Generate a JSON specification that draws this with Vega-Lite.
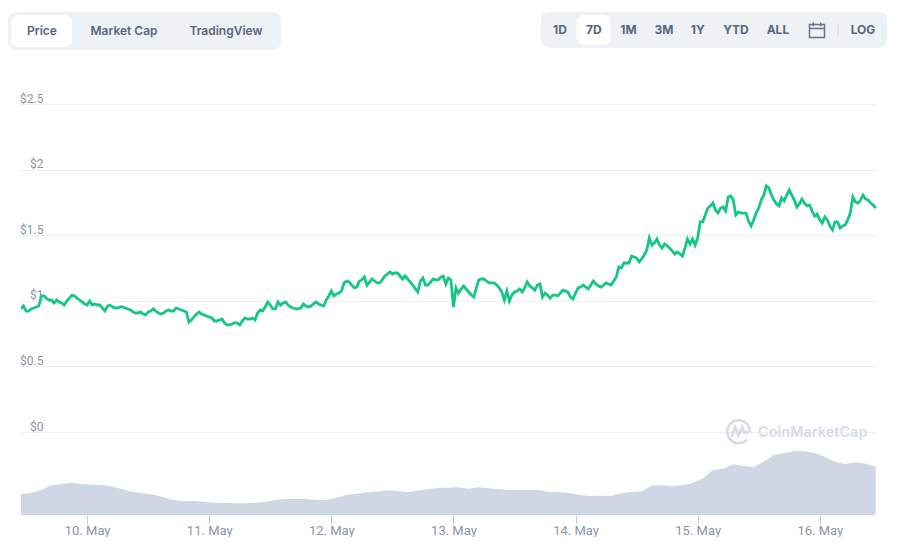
{
"$schema":"https://vega.github.io/schema/vega-lite/v6.json",
"padding":{"left":8,"top":12,"right":0,"bottom":0},
"background":"white",
"config":{"view":{"stroke":null},"font":"Inter"},
"spacing":42,
"datasets":{
"tabs":[{"label":"Price","selected":true},{"label":"Market Cap","selected":false},{"label":"TradingView","selected":false}],
"ranges":[{"label":"1D","selected":false},{"label":"7D","selected":true},{"label":"1M","selected":false},{"label":"3M","selected":false},{"label":"1Y","selected":false},{"label":"YTD","selected":false},{"label":"ALL","selected":false},{"label":"LOG","selected":false}],
"price":[
{"t":"2021-05-09T11:00","p":0.938},{"t":"2021-05-09T11:30","p":0.96},{"t":"2021-05-09T12:00","p":0.922},{"t":"2021-05-09T12:30","p":0.922},{"t":"2021-05-09T13:00","p":0.938},{"t":"2021-05-09T13:30","p":0.945},{"t":"2021-05-09T14:00","p":0.953},{"t":"2021-05-09T14:30","p":0.96},{"t":"2021-05-09T15:00","p":1.037},{"t":"2021-05-09T15:30","p":1.037},{"t":"2021-05-09T16:00","p":1.021},{"t":"2021-05-09T16:30","p":1.006},{"t":"2021-05-09T17:00","p":1.006},{"t":"2021-05-09T17:30","p":0.983},{"t":"2021-05-09T18:00","p":1.006},{"t":"2021-05-09T18:30","p":0.991},{"t":"2021-05-09T19:00","p":0.983},{"t":"2021-05-09T19:30","p":0.968},{"t":"2021-05-09T20:00","p":0.998},{"t":"2021-05-09T20:30","p":1.021},{"t":"2021-05-09T21:00","p":1.044},{"t":"2021-05-09T21:30","p":1.037},{"t":"2021-05-09T22:00","p":1.021},{"t":"2021-05-09T22:30","p":1.006},{"t":"2021-05-09T23:00","p":0.991},{"t":"2021-05-09T23:30","p":0.976},
{"t":"2021-05-10T00:00","p":0.968},{"t":"2021-05-10T00:30","p":0.998},{"t":"2021-05-10T01:00","p":0.968},{"t":"2021-05-10T01:30","p":0.976},{"t":"2021-05-10T02:00","p":0.968},{"t":"2021-05-10T02:30","p":0.968},{"t":"2021-05-10T03:00","p":0.945},{"t":"2021-05-10T03:30","p":0.922},{"t":"2021-05-10T04:00","p":0.96},{"t":"2021-05-10T04:30","p":0.968},{"t":"2021-05-10T05:00","p":0.953},{"t":"2021-05-10T05:30","p":0.945},{"t":"2021-05-10T06:00","p":0.945},{"t":"2021-05-10T06:30","p":0.953},{"t":"2021-05-10T07:00","p":0.953},{"t":"2021-05-10T07:30","p":0.945},{"t":"2021-05-10T08:00","p":0.938},{"t":"2021-05-10T08:30","p":0.93},{"t":"2021-05-10T09:00","p":0.915},{"t":"2021-05-10T09:30","p":0.907},{"t":"2021-05-10T10:00","p":0.907},{"t":"2021-05-10T10:30","p":0.915},{"t":"2021-05-10T11:00","p":0.899},{"t":"2021-05-10T11:30","p":0.892},{"t":"2021-05-10T12:00","p":0.915},{"t":"2021-05-10T12:30","p":0.922},{"t":"2021-05-10T13:00","p":0.938},{"t":"2021-05-10T13:30","p":0.922},{"t":"2021-05-10T14:00","p":0.907},{"t":"2021-05-10T14:30","p":0.899},{"t":"2021-05-10T15:00","p":0.907},{"t":"2021-05-10T15:30","p":0.922},{"t":"2021-05-10T16:00","p":0.93},{"t":"2021-05-10T16:30","p":0.922},{"t":"2021-05-10T17:00","p":0.922},{"t":"2021-05-10T17:30","p":0.945},{"t":"2021-05-10T18:00","p":0.938},{"t":"2021-05-10T18:30","p":0.93},{"t":"2021-05-10T19:00","p":0.922},{"t":"2021-05-10T19:30","p":0.915},{"t":"2021-05-10T20:00","p":0.838},{"t":"2021-05-10T20:30","p":0.854},{"t":"2021-05-10T21:00","p":0.877},{"t":"2021-05-10T21:30","p":0.899},{"t":"2021-05-10T22:00","p":0.915},{"t":"2021-05-10T22:30","p":0.899},{"t":"2021-05-10T23:00","p":0.892},{"t":"2021-05-10T23:30","p":0.884},
{"t":"2021-05-11T00:00","p":0.877},{"t":"2021-05-11T00:30","p":0.869},{"t":"2021-05-11T01:00","p":0.846},{"t":"2021-05-11T01:30","p":0.846},{"t":"2021-05-11T02:00","p":0.854},{"t":"2021-05-11T02:30","p":0.861},{"t":"2021-05-11T03:00","p":0.831},{"t":"2021-05-11T03:30","p":0.816},{"t":"2021-05-11T04:00","p":0.816},{"t":"2021-05-11T04:30","p":0.823},{"t":"2021-05-11T05:00","p":0.831},{"t":"2021-05-11T05:30","p":0.831},{"t":"2021-05-11T06:00","p":0.816},{"t":"2021-05-11T06:30","p":0.846},{"t":"2021-05-11T07:00","p":0.869},{"t":"2021-05-11T07:30","p":0.861},{"t":"2021-05-11T08:00","p":0.861},{"t":"2021-05-11T08:30","p":0.869},{"t":"2021-05-11T09:00","p":0.854},{"t":"2021-05-11T09:30","p":0.907},{"t":"2021-05-11T10:00","p":0.93},{"t":"2021-05-11T10:30","p":0.922},{"t":"2021-05-11T11:00","p":0.953},{"t":"2021-05-11T11:30","p":0.991},{"t":"2021-05-11T12:00","p":0.968},{"t":"2021-05-11T12:30","p":0.938},{"t":"2021-05-11T13:00","p":0.938},{"t":"2021-05-11T13:30","p":0.991},{"t":"2021-05-11T14:00","p":0.968},{"t":"2021-05-11T14:30","p":0.983},{"t":"2021-05-11T15:00","p":0.991},{"t":"2021-05-11T15:30","p":0.968},{"t":"2021-05-11T16:00","p":0.953},{"t":"2021-05-11T16:30","p":0.945},{"t":"2021-05-11T17:00","p":0.938},{"t":"2021-05-11T17:30","p":0.938},{"t":"2021-05-11T18:00","p":0.945},{"t":"2021-05-11T18:30","p":0.976},{"t":"2021-05-11T19:00","p":0.96},{"t":"2021-05-11T19:30","p":0.953},{"t":"2021-05-11T20:00","p":0.96},{"t":"2021-05-11T20:30","p":0.976},{"t":"2021-05-11T21:00","p":0.991},{"t":"2021-05-11T21:30","p":0.976},{"t":"2021-05-11T22:00","p":0.968},{"t":"2021-05-11T22:30","p":0.96},{"t":"2021-05-11T23:00","p":1.006},{"t":"2021-05-11T23:30","p":1.037},
{"t":"2021-05-12T00:00","p":1.075},{"t":"2021-05-12T00:30","p":1.037},{"t":"2021-05-12T01:00","p":1.052},{"t":"2021-05-12T01:30","p":1.059},{"t":"2021-05-12T02:00","p":1.075},{"t":"2021-05-12T02:30","p":1.136},{"t":"2021-05-12T03:00","p":1.151},{"t":"2021-05-12T03:30","p":1.143},{"t":"2021-05-12T04:00","p":1.12},{"t":"2021-05-12T04:30","p":1.098},{"t":"2021-05-12T05:00","p":1.105},{"t":"2021-05-12T05:30","p":1.151},{"t":"2021-05-12T06:00","p":1.159},{"t":"2021-05-12T06:30","p":1.181},{"t":"2021-05-12T07:00","p":1.12},{"t":"2021-05-12T07:30","p":1.143},{"t":"2021-05-12T08:00","p":1.166},{"t":"2021-05-12T08:30","p":1.151},{"t":"2021-05-12T09:00","p":1.136},{"t":"2021-05-12T09:30","p":1.136},{"t":"2021-05-12T10:00","p":1.159},{"t":"2021-05-12T10:30","p":1.189},{"t":"2021-05-12T11:00","p":1.204},{"t":"2021-05-12T11:30","p":1.22},{"t":"2021-05-12T12:00","p":1.204},{"t":"2021-05-12T12:30","p":1.212},{"t":"2021-05-12T13:00","p":1.212},{"t":"2021-05-12T13:30","p":1.189},{"t":"2021-05-12T14:00","p":1.166},{"t":"2021-05-12T14:30","p":1.189},{"t":"2021-05-12T15:00","p":1.166},{"t":"2021-05-12T15:30","p":1.143},{"t":"2021-05-12T16:00","p":1.12},{"t":"2021-05-12T16:30","p":1.09},{"t":"2021-05-12T17:00","p":1.067},{"t":"2021-05-12T17:30","p":1.151},{"t":"2021-05-12T18:00","p":1.174},{"t":"2021-05-12T18:30","p":1.12},{"t":"2021-05-12T19:00","p":1.12},{"t":"2021-05-12T19:30","p":1.143},{"t":"2021-05-12T20:00","p":1.166},{"t":"2021-05-12T20:30","p":1.159},{"t":"2021-05-12T21:00","p":1.159},{"t":"2021-05-12T21:30","p":1.181},{"t":"2021-05-12T22:00","p":1.189},{"t":"2021-05-12T22:30","p":1.128},{"t":"2021-05-12T23:00","p":1.174},{"t":"2021-05-12T23:30","p":1.159},
{"t":"2021-05-13T00:00","p":0.953},{"t":"2021-05-13T00:30","p":1.098},{"t":"2021-05-13T01:00","p":1.059},{"t":"2021-05-13T01:30","p":1.09},{"t":"2021-05-13T02:00","p":1.113},{"t":"2021-05-13T02:30","p":1.09},{"t":"2021-05-13T03:00","p":1.067},{"t":"2021-05-13T03:30","p":1.044},{"t":"2021-05-13T04:00","p":1.029},{"t":"2021-05-13T04:30","p":1.098},{"t":"2021-05-13T05:00","p":1.159},{"t":"2021-05-13T05:30","p":1.166},{"t":"2021-05-13T06:00","p":1.166},{"t":"2021-05-13T06:30","p":1.151},{"t":"2021-05-13T07:00","p":1.136},{"t":"2021-05-13T07:30","p":1.136},{"t":"2021-05-13T08:00","p":1.136},{"t":"2021-05-13T08:30","p":1.12},{"t":"2021-05-13T09:00","p":1.098},{"t":"2021-05-13T09:30","p":1.067},{"t":"2021-05-13T10:00","p":1.006},{"t":"2021-05-13T10:30","p":1.075},{"t":"2021-05-13T11:00","p":0.998},{"t":"2021-05-13T11:30","p":1.044},{"t":"2021-05-13T12:00","p":1.067},{"t":"2021-05-13T12:30","p":1.075},{"t":"2021-05-13T13:00","p":1.09},{"t":"2021-05-13T13:30","p":1.067},{"t":"2021-05-13T14:00","p":1.098},{"t":"2021-05-13T14:30","p":1.143},{"t":"2021-05-13T15:00","p":1.113},{"t":"2021-05-13T15:30","p":1.098},{"t":"2021-05-13T16:00","p":1.082},{"t":"2021-05-13T16:30","p":1.12},{"t":"2021-05-13T17:00","p":1.128},{"t":"2021-05-13T17:30","p":1.029},{"t":"2021-05-13T18:00","p":1.059},{"t":"2021-05-13T18:30","p":1.044},{"t":"2021-05-13T19:00","p":1.021},{"t":"2021-05-13T19:30","p":1.044},{"t":"2021-05-13T20:00","p":1.044},{"t":"2021-05-13T20:30","p":1.037},{"t":"2021-05-13T21:00","p":1.059},{"t":"2021-05-13T21:30","p":1.082},{"t":"2021-05-13T22:00","p":1.075},{"t":"2021-05-13T22:30","p":1.067},{"t":"2021-05-13T23:00","p":1.029},{"t":"2021-05-13T23:30","p":1.014},
{"t":"2021-05-14T00:00","p":1.059},{"t":"2021-05-14T00:30","p":1.098},{"t":"2021-05-14T01:00","p":1.105},{"t":"2021-05-14T01:30","p":1.12},{"t":"2021-05-14T02:00","p":1.105},{"t":"2021-05-14T02:30","p":1.09},{"t":"2021-05-14T03:00","p":1.12},{"t":"2021-05-14T03:30","p":1.151},{"t":"2021-05-14T04:00","p":1.128},{"t":"2021-05-14T04:30","p":1.113},{"t":"2021-05-14T05:00","p":1.105},{"t":"2021-05-14T05:30","p":1.12},{"t":"2021-05-14T06:00","p":1.136},{"t":"2021-05-14T06:30","p":1.128},{"t":"2021-05-14T07:00","p":1.12},{"t":"2021-05-14T07:30","p":1.151},{"t":"2021-05-14T08:00","p":1.181},{"t":"2021-05-14T08:30","p":1.258},{"t":"2021-05-14T09:00","p":1.25},{"t":"2021-05-14T09:30","p":1.288},{"t":"2021-05-14T10:00","p":1.288},{"t":"2021-05-14T10:30","p":1.288},{"t":"2021-05-14T11:00","p":1.341},{"t":"2021-05-14T11:30","p":1.334},{"t":"2021-05-14T12:00","p":1.326},{"t":"2021-05-14T12:30","p":1.296},{"t":"2021-05-14T13:00","p":1.319},{"t":"2021-05-14T13:30","p":1.349},{"t":"2021-05-14T14:00","p":1.387},{"t":"2021-05-14T14:30","p":1.479},{"t":"2021-05-14T15:00","p":1.425},{"t":"2021-05-14T15:30","p":1.441},{"t":"2021-05-14T16:00","p":1.471},{"t":"2021-05-14T16:30","p":1.425},{"t":"2021-05-14T17:00","p":1.402},{"t":"2021-05-14T17:30","p":1.433},{"t":"2021-05-14T18:00","p":1.418},{"t":"2021-05-14T18:30","p":1.402},{"t":"2021-05-14T19:00","p":1.38},{"t":"2021-05-14T19:30","p":1.357},{"t":"2021-05-14T20:00","p":1.372},{"t":"2021-05-14T20:30","p":1.357},{"t":"2021-05-14T21:00","p":1.341},{"t":"2021-05-14T21:30","p":1.402},{"t":"2021-05-14T22:00","p":1.471},{"t":"2021-05-14T22:30","p":1.433},{"t":"2021-05-14T23:00","p":1.471},{"t":"2021-05-14T23:30","p":1.425},
{"t":"2021-05-15T00:00","p":1.479},{"t":"2021-05-15T00:30","p":1.601},{"t":"2021-05-15T01:00","p":1.601},{"t":"2021-05-15T01:30","p":1.654},{"t":"2021-05-15T02:00","p":1.707},{"t":"2021-05-15T02:30","p":1.723},{"t":"2021-05-15T03:00","p":1.745},{"t":"2021-05-15T03:30","p":1.692},{"t":"2021-05-15T04:00","p":1.669},{"t":"2021-05-15T04:30","p":1.707},{"t":"2021-05-15T05:00","p":1.715},{"t":"2021-05-15T05:30","p":1.684},{"t":"2021-05-15T06:00","p":1.791},{"t":"2021-05-15T06:30","p":1.799},{"t":"2021-05-15T07:00","p":1.768},{"t":"2021-05-15T07:30","p":1.654},{"t":"2021-05-15T08:00","p":1.677},{"t":"2021-05-15T08:30","p":1.669},{"t":"2021-05-15T09:00","p":1.669},{"t":"2021-05-15T09:30","p":1.669},{"t":"2021-05-15T10:00","p":1.608},{"t":"2021-05-15T10:30","p":1.57},{"t":"2021-05-15T11:00","p":1.616},{"t":"2021-05-15T11:30","p":1.669},{"t":"2021-05-15T12:00","p":1.707},{"t":"2021-05-15T12:30","p":1.768},{"t":"2021-05-15T13:00","p":1.806},{"t":"2021-05-15T13:30","p":1.875},{"t":"2021-05-15T14:00","p":1.86},{"t":"2021-05-15T14:30","p":1.806},{"t":"2021-05-15T15:00","p":1.768},{"t":"2021-05-15T15:30","p":1.738},{"t":"2021-05-15T16:00","p":1.723},{"t":"2021-05-15T16:30","p":1.784},{"t":"2021-05-15T17:00","p":1.761},{"t":"2021-05-15T17:30","p":1.806},{"t":"2021-05-15T18:00","p":1.845},{"t":"2021-05-15T18:30","p":1.806},{"t":"2021-05-15T19:00","p":1.768},{"t":"2021-05-15T19:30","p":1.715},{"t":"2021-05-15T20:00","p":1.738},{"t":"2021-05-15T20:30","p":1.776},{"t":"2021-05-15T21:00","p":1.745},{"t":"2021-05-15T21:30","p":1.723},{"t":"2021-05-15T22:00","p":1.73},{"t":"2021-05-15T22:30","p":1.684},{"t":"2021-05-15T23:00","p":1.646},{"t":"2021-05-15T23:30","p":1.662},
{"t":"2021-05-16T00:00","p":1.616},{"t":"2021-05-16T00:30","p":1.593},{"t":"2021-05-16T01:00","p":1.639},{"t":"2021-05-16T01:30","p":1.616},{"t":"2021-05-16T02:00","p":1.57},{"t":"2021-05-16T02:30","p":1.54},{"t":"2021-05-16T03:00","p":1.601},{"t":"2021-05-16T03:30","p":1.601},{"t":"2021-05-16T04:00","p":1.555},{"t":"2021-05-16T04:30","p":1.57},{"t":"2021-05-16T05:00","p":1.578},{"t":"2021-05-16T05:30","p":1.616},{"t":"2021-05-16T06:00","p":1.669},{"t":"2021-05-16T06:30","p":1.791},{"t":"2021-05-16T07:00","p":1.753},{"t":"2021-05-16T07:30","p":1.745},{"t":"2021-05-16T08:00","p":1.768},{"t":"2021-05-16T08:30","p":1.806},{"t":"2021-05-16T09:00","p":1.776},{"t":"2021-05-16T09:30","p":1.768},{"t":"2021-05-16T10:00","p":1.745},{"t":"2021-05-16T10:30","p":1.73},{"t":"2021-05-16T11:00","p":1.707}
],
"volume":[
{"t":"2021-05-09T11:00","v":21},{"t":"2021-05-09T13:00","v":22},{"t":"2021-05-09T15:00","v":25},{"t":"2021-05-09T17:00","v":29.7},{"t":"2021-05-09T19:00","v":31},{"t":"2021-05-09T21:00","v":32.3},{"t":"2021-05-09T23:00","v":31},
{"t":"2021-05-10T01:00","v":30.3},{"t":"2021-05-10T03:00","v":30},{"t":"2021-05-10T05:00","v":28.3},{"t":"2021-05-10T07:00","v":25.7},{"t":"2021-05-10T09:00","v":23},{"t":"2021-05-10T11:00","v":21.7},{"t":"2021-05-10T13:00","v":20.3},{"t":"2021-05-10T15:00","v":17.7},{"t":"2021-05-10T17:00","v":15},{"t":"2021-05-10T19:00","v":13.7},{"t":"2021-05-10T21:00","v":14},{"t":"2021-05-10T23:00","v":13.3},
{"t":"2021-05-11T01:00","v":12.3},{"t":"2021-05-11T03:00","v":12},{"t":"2021-05-11T05:00","v":11.7},{"t":"2021-05-11T07:00","v":11.7},{"t":"2021-05-11T09:00","v":12},{"t":"2021-05-11T11:00","v":13.3},{"t":"2021-05-11T13:00","v":15},{"t":"2021-05-11T15:00","v":16},{"t":"2021-05-11T17:00","v":16},{"t":"2021-05-11T19:00","v":16},{"t":"2021-05-11T21:00","v":15},{"t":"2021-05-11T23:00","v":15},
{"t":"2021-05-12T01:00","v":17.3},{"t":"2021-05-12T03:00","v":20.3},{"t":"2021-05-12T05:00","v":21.3},{"t":"2021-05-12T07:00","v":22.7},{"t":"2021-05-12T09:00","v":23.3},{"t":"2021-05-12T11:00","v":24.7},{"t":"2021-05-12T13:00","v":24},{"t":"2021-05-12T15:00","v":23},{"t":"2021-05-12T17:00","v":24.3},{"t":"2021-05-12T19:00","v":26},{"t":"2021-05-12T21:00","v":27},{"t":"2021-05-12T23:00","v":27.3},
{"t":"2021-05-13T01:00","v":27.7},{"t":"2021-05-13T03:00","v":26.3},{"t":"2021-05-13T05:00","v":27.7},{"t":"2021-05-13T07:00","v":26.7},{"t":"2021-05-13T09:00","v":25.7},{"t":"2021-05-13T11:00","v":25},{"t":"2021-05-13T13:00","v":25},{"t":"2021-05-13T15:00","v":25.3},{"t":"2021-05-13T17:00","v":24.7},{"t":"2021-05-13T19:00","v":23},{"t":"2021-05-13T21:00","v":22.7},{"t":"2021-05-13T23:00","v":21.7},
{"t":"2021-05-14T01:00","v":19.7},{"t":"2021-05-14T03:00","v":19},{"t":"2021-05-14T05:00","v":19.3},{"t":"2021-05-14T07:00","v":19},{"t":"2021-05-14T09:00","v":21.7},{"t":"2021-05-14T11:00","v":23},{"t":"2021-05-14T13:00","v":23.7},{"t":"2021-05-14T15:00","v":29.3},{"t":"2021-05-14T17:00","v":29.7},{"t":"2021-05-14T19:00","v":29},{"t":"2021-05-14T21:00","v":29.7},{"t":"2021-05-14T23:00","v":32},
{"t":"2021-05-15T01:00","v":36.7},{"t":"2021-05-15T03:00","v":45},{"t":"2021-05-15T05:00","v":46.3},{"t":"2021-05-15T07:00","v":50.7},{"t":"2021-05-15T09:00","v":49.3},{"t":"2021-05-15T11:00","v":47.7},{"t":"2021-05-15T13:00","v":53.3},{"t":"2021-05-15T15:00","v":60},{"t":"2021-05-15T17:00","v":61.7},{"t":"2021-05-15T19:00","v":64.3},{"t":"2021-05-15T21:00","v":63.7},{"t":"2021-05-15T23:00","v":62},
{"t":"2021-05-16T01:00","v":58.3},{"t":"2021-05-16T03:00","v":53.3},{"t":"2021-05-16T05:00","v":51},{"t":"2021-05-16T07:00","v":52.7},{"t":"2021-05-16T09:00","v":51.3},{"t":"2021-05-16T11:00","v":48.3}
]
},
"vconcat":[
{"spacing":260,"hconcat":[
{"width":273,"height":38,"view":{"fill":"#eff2f5","cornerRadius":8,"stroke":null},
"data":{"name":"tabs"},
"encoding":{"x":{"field":"label","type":"nominal","axis":null,"sort":null,"scale":{"domain":["Price","Market Cap","TradingView"],"paddingInner":0,"paddingOuter":0}}},
"layer":[
{"transform":[{"filter":"datum.selected"}],"mark":{"type":"bar","color":"white","width":61,"height":32,"xOffset":-12,"cornerRadius":7},"encoding":{"y":{"datum":"row","type":"nominal","axis":null}}},
{"mark":{"type":"text","font":"Inter","fontWeight":600,"fontSize":12,"color":"#58667e","dx":{"expr":"datum.label==='Price'?-11.5:datum.label==='Market Cap'?-20.5:-9.5"}},"encoding":{"text":{"field":"label"}}}
]},
{"width":346,"height":36,"view":{"fill":"#eff2f5","cornerRadius":8,"stroke":null},
"encoding":{"x":{"field":"label","type":"nominal","axis":null,"sort":null,"scale":{"domain":["1D","7D","1M","3M","1Y","YTD","ALL","calendar","divider","LOG"],"paddingInner":0,"paddingOuter":0}}},
"layer":[
{"data":{"name":"ranges"},"transform":[{"filter":"datum.selected"}],"mark":{"type":"bar","color":"white","width":34,"height":30,"xOffset":0.6,"cornerRadius":7},"encoding":{"y":{"datum":"row","type":"nominal","axis":null}}},
{"data":{"name":"ranges"},"mark":{"type":"text","font":"Inter","fontWeight":700,"fontSize":12,"color":"#58667e","dx":{"expr":"datum.label==='YTD'?4.7:datum.label==='ALL'?12:datum.label==='LOG'?-6.7:datum.label==='3M'?1.9:datum.label==='1D'?1.7:1"}},"encoding":{"text":{"field":"label"}}},
{"data":{"values":[{"label":"calendar"}]},"mark":{"type":"point","filled":false,"shape":"M-1,-0.75H1V1H-1ZM-1,-0.2H1M-0.5,-1V-0.5M0.5,-1V-0.5","size":225,"stroke":"#58667e","strokeWidth":1.5,"opacity":0.9,"xOffset":16.5}},
{"data":{"values":[{"label":"divider"}]},"mark":{"type":"point","filled":false,"shape":"M0,-1V1","size":169,"stroke":"#cfd6e4","strokeWidth":1,"opacity":1,"xOffset":3}}
]}
]},
{"spacing":0,"bounds":"flush","hconcat":[
{"width":13,"height":1,"data":{"values":[{"spacer":1}]},"mark":{"type":"rect","opacity":0}},
{"spacing":18,"bounds":"flush","vconcat":[
{"width":856,"height":328,
"layer":[
{"data":{"name":"price"},"mark":{"type":"line","color":"#16c784","strokeWidth":2.8,"strokeJoin":"miter","clip":true},
"encoding":{"x":{"field":"t","type":"temporal","axis":null,"scale":{"domain":["2021-05-09T11:00","2021-05-16T11:15"]}},
"y":{"field":"p","type":"quantitative","title":null,"scale":{"domain":[0,2.5],"nice":false},
"axis":{"values":[0,0.5,1,1.5,2,2.5],"labelExpr":"'$'+datum.value","ticks":false,"domain":false,"gridColor":"#eff2f5","labelAlign":"right","labelPadding":-22,"labelBaseline":"bottom","labelOffset":1,"labelFont":"Roboto","labelFontSize":12,"labelColor":"#8d94a8"}}}},
{"data":{"values":[{"brand":"CoinMarketCap"}]},"mark":{"type":"text","align":"left","baseline":"middle","font":"Inter","fontWeight":600,"fontSize":14.5,"color":"#d5dbe7"},
"encoding":{"x":{"datum":{"year":2021,"month":5,"date":15,"hours":11,"minutes":51},"type":"temporal"},"y":{"datum":-0.008,"type":"quantitative"},"text":{"field":"brand"}}},
{"data":{"values":[{"brand":"logo"}]},"mark":{"type":"point","filled":false,"shape":"M0.75,0.66A1,1,0,1,1,1,0M-0.62,0.45L-0.3,-0.4L0,0.3L0.32,-0.4L0.5,0.1L1,0","size":529,"stroke":"#d5dbe7","strokeWidth":2.6,"opacity":1},
"encoding":{"x":{"datum":{"year":2021,"month":5,"date":15,"hours":8,"minutes":3},"type":"temporal"},"y":{"datum":0.002,"type":"quantitative"}}}
]},
{"width":856,"height":65,
"data":{"name":"volume"},
"mark":{"type":"area","color":"#cfd6e4","opacity":1},
"encoding":{
"x":{"field":"t","type":"temporal","title":null,"scale":{"domain":["2021-05-09T11:00","2021-05-16T11:15"]},
"axis":{"format":"%-d. %b","tickCount":{"interval":"day"},"grid":false,"domain":false,"tickColor":"#c3cee0","tickSize":9,"labelPadding":0,"labelFont":"Roboto","labelFontSize":13,"labelColor":"#8d94a8","labelFlush":false}},
"y":{"field":"v","type":"quantitative","axis":null,"scale":{"domain":[0,65],"nice":false}}
}}
]}
]}
]}
